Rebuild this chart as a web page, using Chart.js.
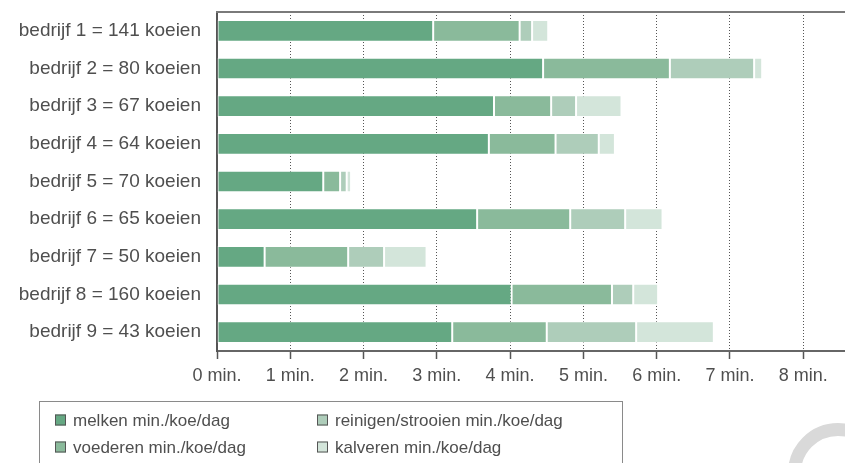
<!DOCTYPE html>
<html>
<head>
<meta charset="utf-8">
<script src="https://cdn.jsdelivr.net/npm/chart.js@4"></script>
<style>
  html, body { margin: 0; padding: 0; background: #fff; }
  #wrap { width: 845px; height: 463px; }
</style>
</head>
<body>
<div id="wrap"><canvas id="koeChart"></canvas></div>
<script>
const bedrijven = [
    'bedrijf 1 = 141 koeien', 'bedrijf 2 = 80 koeien', 'bedrijf 3 = 67 koeien',
    'bedrijf 4 = 64 koeien', 'bedrijf 5 = 70 koeien', 'bedrijf 6 = 65 koeien',
    'bedrijf 7 = 50 koeien', 'bedrijf 8 = 160 koeien', 'bedrijf 9 = 43 koeien'
];
const melken    = [2.95, 4.45, 3.78, 3.71, 1.45, 3.55, 0.65, 4.02, 3.21];
const voederen  = [1.18, 1.73, 0.78, 0.91, 0.23, 1.27, 1.14, 1.37, 1.29];
const reinigen  = [0.17, 1.15, 0.34, 0.59, 0.09, 0.75, 0.49, 0.29, 1.22];
const kalveren  = [0.22, 0.11, 0.62, 0.22, 0.06, 0.51, 0.58, 0.34, 1.06];
const tickLabels = ['0 min.', '1 min.', '2 min.', '3 min.', '4 min.', '5 min.', '6 min.', '7 min.', '8 min.'];

const textColor = '#4f4f4f';
const fontFamily = '"Liberation Sans", Arial, sans-serif';

// legend in a framed box, two columns, plus top border + watermark ring
const extras = {
    id: 'extras',
    afterDraw(chart) {
        const ctx = chart.ctx;
        const area = chart.chartArea;
        ctx.save();

        // top frame line
        ctx.strokeStyle = '#7a7a7a';
        ctx.lineWidth = 2;
        ctx.beginPath();
        ctx.moveTo(area.left - 1, area.top);
        ctx.lineTo(chart.width, area.top);
        ctx.stroke();

        // legend box
        ctx.strokeStyle = '#8a8a8a';
        ctx.lineWidth = 1;
        ctx.strokeRect(39.5, 401.5, 583, 80);

        const cols = [55, 317];
        const rows = [420, 447];
        const ds = chart.data.datasets;
        const pos = [[0, 0], [0, 1], [1, 0], [1, 1]];
        ctx.font = '17px ' + fontFamily;
        ctx.textBaseline = 'middle';
        ds.forEach((d, i) => {
            const x = cols[pos[i][0]], y = rows[pos[i][1]];
            ctx.fillStyle = d.backgroundColor;
            ctx.fillRect(x, y - 5.5, 11, 11);
            ctx.strokeStyle = '#555';
            ctx.strokeRect(x + 0.5, y - 5, 10, 10);
            ctx.fillStyle = textColor;
            ctx.fillText(d.label, x + 18, y + 1);
        });

        // watermark ring in the corner
        ctx.strokeStyle = '#d9d9d9';
        ctx.lineWidth = 13;
        ctx.beginPath();
        ctx.arc(838, 473, 43.5, 0, Math.PI * 2);
        ctx.stroke();
        ctx.restore();
    }
};

const ctx = document.getElementById('koeChart').getContext('2d');
new Chart(ctx, {
    type: 'bar',
    data: {
        labels: bedrijven,
        datasets: [
            { label: 'melken min./koe/dag', data: melken, backgroundColor: '#65a883' },
            { label: 'voederen min./koe/dag', data: voederen, backgroundColor: '#8aba9b' },
            { label: 'reinigen/strooien min./koe/dag', data: reinigen, backgroundColor: '#aecdba' },
            { label: 'kalveren min./koe/dag', data: kalveren, backgroundColor: '#d3e5da' }
        ]
    },
    options: {
        indexAxis: 'y',
        responsive: true,
        maintainAspectRatio: false,
        animation: false,
        datasets: {
            bar: {
                barPercentage: 0.8,
                categoryPercentage: 0.72,
                borderColor: 'rgba(255,255,255,0.55)',
                borderWidth: 1,
                borderSkipped: false
            }
        },
        layout: { padding: { top: 12, right: 0, bottom: 0, left: 0 } },
        plugins: {
            legend: { display: false },
            tooltip: { enabled: false }
        },
        scales: {
            x: {
                stacked: true,
                min: 0,
                max: 8.57,
                afterFit: (scale) => { scale.height = 112; },
                border: { display: true, color: '#666', width: 2, dash: [1, 2] },
                grid: {
                    color: (c) => (c.tick && c.tick.value === 0) ? 'rgba(0,0,0,0)' : '#555',
                    lineWidth: 1,
                    tickColor: '#555',
                    tickLength: 8,
                    tickWidth: 1.5,
                    tickBorderDash: []
                },
                ticks: {
                    stepSize: 1,
                    includeBounds: false,
                    maxRotation: 0,
                    padding: 6,
                    color: textColor,
                    font: { family: fontFamily, size: 18 },
                    callback: (v) => tickLabels[v]
                }
            },
            y: {
                stacked: true,
                afterFit: (scale) => {
                    scale.width = 217;
                    scale.paddingTop = 0;
                    scale.paddingBottom = 0;
                },
                border: { display: true, color: '#555', width: 2 },
                grid: { display: false, drawTicks: false },
                ticks: {
                    padding: 16,
                    color: textColor,
                    font: { family: fontFamily, size: 19 }
                }
            }
        }
    },
    plugins: [extras]
});
</script>
</body>
</html>
